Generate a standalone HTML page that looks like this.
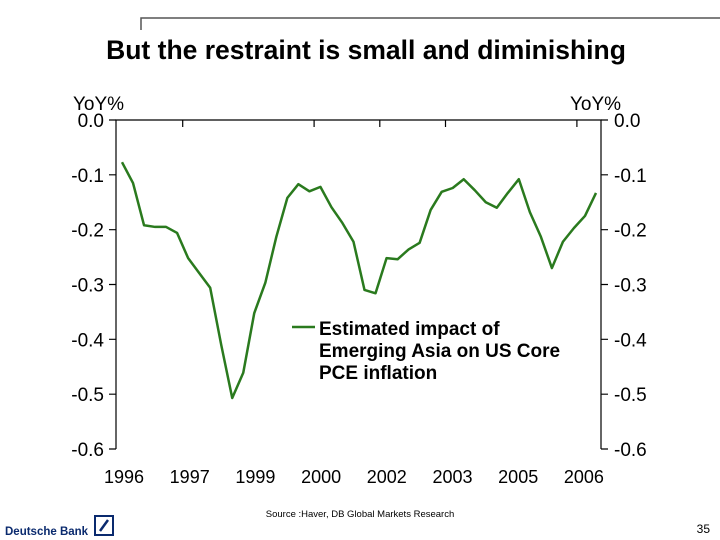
<!DOCTYPE html>
<html><head><meta charset="utf-8"><style>
body{margin:0;width:720px;height:540px;background:#fff;overflow:hidden;font-family:"Liberation Sans",sans-serif}
svg{position:absolute;left:0;top:0}
</style></head><body>
<svg width="720" height="540">
<path d="M141,30 V18 H720" stroke="#555" stroke-width="1.5" fill="none"/>
<text x="366" y="59" text-anchor="middle" font-size="26.5" font-weight="bold">But the restraint is small and diminishing</text>
<text x="73" y="110" font-size="19">YoY%</text>
<text x="570" y="110" font-size="19">YoY%</text>
<g id="axes"></g>
<g id="series"></g>
<g>
<line x1="292" y1="327" x2="315" y2="327" stroke="#2a7a1e" stroke-width="2.5"/>
<text font-size="19" font-weight="bold"><tspan x="319" y="335">Estimated impact  of</tspan><tspan x="319" y="357">Emerging Asia on  US Core</tspan><tspan x="319" y="379">PCE inflation</tspan></text>
</g>
<text x="360" y="517" text-anchor="middle" font-size="9.5">Source :Haver, DB Global Markets Research</text>
<text x="5" y="535" font-size="11.5" font-weight="bold" fill="#0a2a6e">Deutsche Bank</text>
<g><rect x="95" y="516" width="18" height="19" fill="none" stroke="#0a2a6e" stroke-width="2"/><line x1="100" y1="531" x2="108" y2="520" stroke="#0a2a6e" stroke-width="2.5"/></g>
<text x="710" y="533" text-anchor="end" font-size="12">35</text>
</svg>
<script>
const yTicks=[0,-0.1,-0.2,-0.3,-0.4,-0.5,-0.6];
const yTickLabels=["0.0","-0.1","-0.2","-0.3","-0.4","-0.5","-0.6"];
const xLabels=["1996","1997","1999","2000","2002","2003","2005","2006"];
const values=[-0.077,-0.115,-0.192,-0.195,-0.195,-0.206,-0.252,-0.279,-0.306,-0.41,-0.507,-0.461,-0.352,-0.297,-0.213,-0.142,-0.117,-0.13,-0.122,-0.159,-0.188,-0.222,-0.31,-0.316,-0.252,-0.254,-0.236,-0.224,-0.164,-0.131,-0.124,-0.108,-0.128,-0.15,-0.16,-0.133,-0.108,-0.168,-0.213,-0.27,-0.222,-0.197,-0.175,-0.133];
const NS="http://www.w3.org/2000/svg";
const L=116,R=601,T=120,B=449;
const y=v=>T+(0-v)/0.6*(B-T);
const x=i=>122+i*(596-122)/(values.length-1);
const xl=k=>124+k*65.7;
function mk(t,a,p){const e=document.createElementNS(NS,t);for(const k in a)e.setAttribute(k,a[k]);p.appendChild(e);return e;}
const ax=document.getElementById('axes');
let e=mk('path',{d:`M${L},${B} V${T} H${R} V${B}`,stroke:'#000','stroke-width':1.2,fill:'none'},ax);


yTicks.forEach((v,i)=>{
 let t=mk('path',{d:`M${L-7},${y(v)} H${L} M${R},${y(v)} H${R+7}`,stroke:'#000','stroke-width':1.2},ax);
 
 
 let a=mk('text',{x:L-12,y:y(v)+7,'text-anchor':'end','font-size':19},ax);a.textContent=yTickLabels[i];
 
 
 let b=mk('text',{x:R+13,y:y(v)+7,'font-size':19},ax);b.textContent=yTickLabels[i];
 
 
});
[1,3,4,5,7].forEach(k=>{
 let t=mk('line',{x1:xl(k)-7,x2:xl(k)-7,y1:T,y2:T+7,stroke:'#000','stroke-width':1.2},ax);
 
 
});
xLabels.forEach((s,k)=>{
 let a=mk('text',{x:xl(k),y:483,'text-anchor':'middle','font-size':18},ax);a.textContent=s;
 
 
});
const sg=document.getElementById('series');
let p=mk('polyline',{points:values.map((v,i)=>x(i)+','+y(v)).join(' '),fill:'none',stroke:'#2a7a1e','stroke-width':2.5,'stroke-linejoin':'round'},sg);


</script>
</body></html>
